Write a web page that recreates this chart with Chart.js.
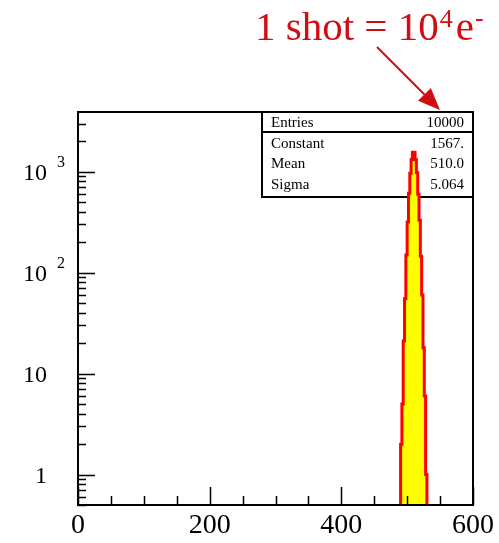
<!DOCTYPE html>
<html>
<head>
<meta charset="utf-8">
<script src="https://cdn.jsdelivr.net/npm/chart.js@4/dist/chart.umd.min.js"></script>
<style>
  html, body { margin: 0; padding: 0; background: #fff; }
  #wrap { width: 499px; height: 543px; position: relative; }
</style>
</head>
<body>
<div id="wrap"><canvas id="hist"></canvas></div>
<script>
// histogram: 2-unit bins, centres and counts
const binCenters = [489, 491, 493, 495, 497, 499, 501, 503, 505, 507, 509,
                    511, 513, 515, 517, 519, 521, 523, 525, 527, 529, 531];
const counts = [0, 2, 5, 21, 55, 150, 318, 610, 965, 1320, 1562,
                1549, 1310, 975, 598, 330, 145, 60, 18, 6, 1, 0];

// axis ranges and labels
const X_MIN = 0, X_MAX = 600;
const Y_MIN = 0.5, Y_MAX = 3900;
const xLabelValues = [0, 200, 400, 600];
const yLabelValues = [1, 10, 100, 1000];
const yLabelBase = ['1', '10', '10', '10'];
const yLabelExp = ['', '', '2', '3'];

// stats box
const statNames = ['Entries', 'Constant', 'Mean', 'Sigma'];
const statValues = ['10000', '1567.', '510.0', '5.064'];

const SERIF = '"Liberation Serif", "DejaVu Serif", serif';
const RED_TEXT = '#d00d12';

// empty bins go to the bottom of the log axis
const points = binCenters.map((x, i) => ({ x: x, y: counts[i] > 0 ? counts[i] : Y_MIN }));

const statsBox = {
  id: 'statsBox',
  beforeDatasetsDraw(chart) {
    const ctx = chart.ctx;
    const a = chart.chartArea;
    const left = 262, top = a.top, right = a.right, bottom = 197;
    const rowSplit = 132;
    ctx.save();
    ctx.fillStyle = '#fff';
    ctx.fillRect(left, top, right - left, bottom - top);
    ctx.strokeStyle = '#000';
    ctx.lineWidth = 2;
    ctx.strokeRect(left, top, right - left, bottom - top);
    ctx.beginPath();
    ctx.moveTo(left, rowSplit);
    ctx.lineTo(right, rowSplit);
    ctx.stroke();
    ctx.fillStyle = '#000';
    ctx.font = '15px ' + SERIF;
    ctx.textBaseline = 'middle';
    const rowY = [123, 144, 164, 185];
    statNames.forEach((name, i) => {
      ctx.textAlign = 'left';
      ctx.fillText(name, 271, rowY[i]);
      ctx.textAlign = 'right';
      ctx.fillText(statValues[i], 464, rowY[i]);
    });
    ctx.restore();
  }
};

const frameAndTicks = {
  id: 'frameAndTicks',
  afterDraw(chart) {
    const ctx = chart.ctx;
    const a = chart.chartArea;
    const xs = chart.scales.x, ys = chart.scales.y;
    ctx.save();
    ctx.strokeStyle = '#000';
    ctx.lineWidth = 2;
    ctx.strokeRect(a.left, a.top, a.right - a.left, a.bottom - a.top);

    ctx.lineWidth = 1.5;
    ctx.beginPath();
    // x ticks, pointing up from the bottom axis
    for (let v = X_MIN; v <= X_MAX; v += 50) {
      const px = Math.round(xs.getPixelForValue(v)) + 0.5;
      const len = xLabelValues.includes(v) ? 18 : 9;
      ctx.moveTo(px, a.bottom);
      ctx.lineTo(px, a.bottom - len);
    }
    // y ticks, pointing right from the left axis
    for (let dec = 0.1; dec <= 1000; dec *= 10) {
      for (let m = 1; m <= 9; m++) {
        const v = m * dec;
        if (v < Y_MIN * 0.999 || v > Y_MAX) continue;
        const py = Math.round(ys.getPixelForValue(v)) + 0.5;
        const len = m === 1 ? 17 : 8;
        ctx.moveTo(a.left, py);
        ctx.lineTo(a.left + len, py);
      }
    }
    ctx.stroke();

    ctx.fillStyle = '#000';
    ctx.textBaseline = 'middle';
    // x labels
    ctx.font = '28px ' + SERIF;
    ctx.textAlign = 'center';
    xLabelValues.forEach(v => {
      ctx.fillText(String(v), xs.getPixelForValue(v), a.bottom + 21);
    });
    // y labels with exponents
    yLabelValues.forEach((v, i) => {
      const py = ys.getPixelForValue(v);
      ctx.font = '24px ' + SERIF;
      ctx.textAlign = 'right';
      ctx.fillText(yLabelBase[i], 47, py + 2);
      if (yLabelExp[i]) {
        ctx.font = '16px ' + SERIF;
        ctx.textAlign = 'left';
        ctx.fillText(yLabelExp[i], 57, py - 9);
      }
    });

    // caption and arrow
    ctx.fillStyle = RED_TEXT;
    ctx.strokeStyle = RED_TEXT;
    ctx.textBaseline = 'alphabetic';
    ctx.textAlign = 'left';
    ctx.font = '41px ' + SERIF;
    const base = '1 shot = 10';
    ctx.fillText(base, 255, 40);
    let cx = 255 + ctx.measureText(base).width;
    ctx.font = '26px ' + SERIF;
    ctx.fillText('4', cx + 1, 27);
    cx += ctx.measureText('4').width + 4;
    ctx.font = '41px ' + SERIF;
    ctx.fillText('e', cx, 40);
    cx += ctx.measureText('e').width + 1;
    ctx.font = '26px ' + SERIF;
    ctx.fillText('-', cx, 26);

    const x0 = 377, y0 = 47, x1 = 440, y1 = 110;
    const ang = Math.atan2(y1 - y0, x1 - x0);
    const head = 22, half = 9;
    ctx.lineWidth = 2;
    ctx.beginPath();
    ctx.moveTo(x0, y0);
    ctx.lineTo(x1 - head * Math.cos(ang), y1 - head * Math.sin(ang));
    ctx.stroke();
    ctx.beginPath();
    ctx.moveTo(x1, y1);
    const bx = x1 - head * Math.cos(ang), by = y1 - head * Math.sin(ang);
    ctx.lineTo(bx + half * Math.sin(ang), by - half * Math.cos(ang));
    ctx.lineTo(bx - half * Math.sin(ang), by + half * Math.cos(ang));
    ctx.closePath();
    ctx.fill();
    ctx.restore();
  }
};

new Chart(document.getElementById('hist'), {
  type: 'line',
  data: {
    datasets: [{
      data: points,
      stepped: 'middle',
      fill: 'start',
      backgroundColor: '#ffff00',
      borderColor: '#ff0000',
      borderWidth: 3,
      pointRadius: 0
    }]
  },
  options: {
    responsive: true,
    maintainAspectRatio: false,
    animation: false,
    layout: { padding: { left: 78, top: 112, right: 26, bottom: 38 } },
    plugins: { legend: { display: false }, tooltip: { enabled: false } },
    scales: {
      x: { type: 'linear', min: X_MIN, max: X_MAX, display: false },
      y: { type: 'logarithmic', min: Y_MIN, max: Y_MAX, display: false }
    }
  },
  plugins: [statsBox, frameAndTicks]
});
</script>
</body>
</html>
